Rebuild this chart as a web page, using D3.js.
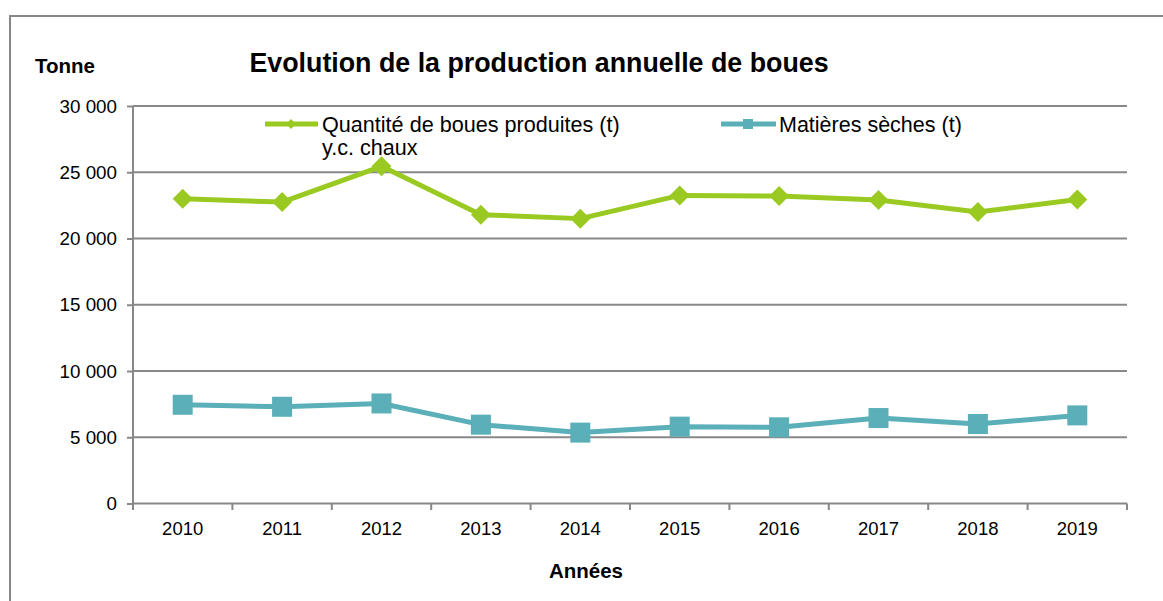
<!DOCTYPE html>
<html>
<head>
<meta charset="utf-8">
<script src="https://cdn.jsdelivr.net/npm/d3@7"></script>
<style>
  body { margin: 0; background: #fff; }
  text { font-family: "Liberation Sans", Arial, sans-serif; fill: #000; }
</style>
</head>
<body>
<script>
var years = ["2010", "2011", "2012", "2013", "2014", "2015", "2016", "2017", "2018", "2019"];
var boues = [23000, 22750, 25450, 21800, 21500, 23250, 23200, 22900, 22000, 22950];
var seches = [7450, 7300, 7550, 5950, 5350, 5800, 5750, 6450, 6000, 6650];
var yTicks = [0, 5000, 10000, 15000, 20000, 25000, 30000];

var green = "#9aca22", blue = "#5aafb8", grey = "#888888";

var svg = d3.select("body").append("svg").attr("width", 1163).attr("height", 601);

// outer frame
svg.append("rect")
    .attr("x", 10).attr("y", 16)
    .attr("width", 1170).attr("height", 620)
    .attr("fill", "none").attr("stroke", grey).attr("stroke-width", 2);

var x = d3.scaleBand().domain(years).range([133, 1127]).padding(0);
var y = d3.scaleLinear().domain([0, 30000]).range([503.5, 106]);

function fmt(v) {
    return d3.format(",")(v).replace(/,/g, " ");
}

// gridlines
svg.append("g").selectAll("line")
    .data(yTicks.filter(function (d) { return d > 0; }))
    .enter().append("line")
    .attr("x1", 133).attr("x2", 1127)
    .attr("y1", function (d) { return y(d); })
    .attr("y2", function (d) { return y(d); })
    .attr("stroke", grey).attr("stroke-width", 2);

// y axis
var yAxis = svg.append("g")
    .attr("transform", "translate(133,0)")
    .call(d3.axisLeft(y).tickValues(yTicks).tickSize(6).tickPadding(10).tickFormat(fmt));
yAxis.selectAll("path, line").attr("stroke", grey).attr("stroke-width", 2);
yAxis.select(".domain").attr("d", "M0,106V503.5");
yAxis.selectAll("text").style("font-size", "18.8px").attr("fill", "#000")
    .style("font-family", "'Liberation Sans', Arial, sans-serif");

// x axis
var xAxis = svg.append("g")
    .attr("transform", "translate(0,503.5)")
    .call(d3.axisBottom(x).tickSize(0).tickPadding(18));
xAxis.select(".domain").attr("stroke", grey).attr("stroke-width", 2).attr("d", "M133,0H1127");
xAxis.selectAll("text").style("font-size", "18.5px").attr("fill", "#000")
    .style("font-family", "'Liberation Sans', Arial, sans-serif");
svg.append("g").selectAll("line")
    .data(years.concat(["end"]))
    .enter().append("line")
    .attr("x1", function (d, i) { return 133 + i * x.bandwidth(); })
    .attr("x2", function (d, i) { return 133 + i * x.bandwidth(); })
    .attr("y1", 503.5).attr("y2", 510)
    .attr("stroke", grey).attr("stroke-width", 2);

function cx(d, i) { return x(years[i]) + x.bandwidth() / 2; }

var line = d3.line()
    .x(function (d, i) { return cx(d, i); })
    .y(function (d) { return y(d); });

// series
svg.append("path").datum(seches)
    .attr("d", line).attr("fill", "none")
    .attr("stroke", blue).attr("stroke-width", 5).attr("stroke-linejoin", "round");
svg.append("g").selectAll("rect")
    .data(seches).enter().append("rect")
    .attr("x", function (d, i) { return cx(d, i) - 10; })
    .attr("y", function (d) { return y(d) - 10; })
    .attr("width", 20).attr("height", 20)
    .attr("fill", blue);

svg.append("path").datum(boues)
    .attr("d", line).attr("fill", "none")
    .attr("stroke", green).attr("stroke-width", 5).attr("stroke-linejoin", "round");
var diamond = "M0,-10L10,0L0,10L-10,0Z";
svg.append("g").selectAll("path")
    .data(boues).enter().append("path")
    .attr("d", diamond)
    .attr("transform", function (d, i) { return "translate(" + cx(d, i) + "," + y(d) + ")"; })
    .attr("fill", green);

// legend
var lg = svg.append("g");
lg.append("line").attr("x1", 265).attr("x2", 318).attr("y1", 124).attr("y2", 124)
    .attr("stroke", green).attr("stroke-width", 5);
lg.append("path").attr("d", "M0,-5L5,0L0,5L-5,0Z").attr("transform", "translate(291,124)").attr("fill", green);
var t1 = lg.append("text").attr("x", 322).attr("y", 131.5).style("font-size", "21.6px");
t1.append("tspan").attr("x", 322).text("Quantité de boues produites (t)");
t1.append("tspan").attr("x", 322).attr("y", 154.5).text("y.c. chaux");

lg.append("line").attr("x1", 721).attr("x2", 776).attr("y1", 124).attr("y2", 124)
    .attr("stroke", blue).attr("stroke-width", 5);
lg.append("rect").attr("x", 743).attr("y", 119).attr("width", 10).attr("height", 10).attr("fill", blue);
lg.append("text").attr("x", 779).attr("y", 131.5).style("font-size", "21.5px").text("Matières sèches (t)");

// titles
svg.append("text").attr("x", 539).attr("y", 72).attr("text-anchor", "middle")
    .style("font-size", "26.8px").style("font-weight", "bold")
    .text("Evolution de la production annuelle de boues");
svg.append("text").attr("x", 35).attr("y", 73)
    .style("font-size", "20.5px").style("font-weight", "bold").text("Tonne");
svg.append("text").attr("x", 586).attr("y", 578).attr("text-anchor", "middle")
    .style("font-size", "20.5px").style("font-weight", "bold").text("Années");
</script>
</body>
</html>
